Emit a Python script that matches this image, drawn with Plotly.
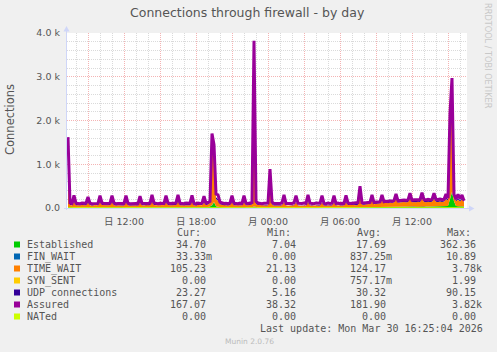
import plotly.graph_objects as go
import pandas as pd

# ---------------- data (10-minute samples, Sun 07:20 .. Mon 16:20) ----------------
times = pd.date_range("2026-03-29 07:20", periods=199, freq="10min")

established = [
    20, 15, 12, 18, 14, 13, 12, 15, 14, 13,
    16, 14, 12, 13, 15, 12, 17, 14, 13, 12,
    13, 15, 17, 14, 12, 13, 14, 15, 13, 16,
    14, 12, 13, 15, 14, 12, 16, 13, 12, 14,
    13, 14, 18, 15, 13, 12, 14, 15, 13, 17,
    15, 13, 14, 12, 15, 18, 14, 13, 12, 15,
    13, 14, 17, 13, 12, 15, 13, 14, 16, 15,
    20, 35, 60, 130, 40, 25, 18, 15, 13, 14,
    12, 14, 16, 13, 12, 11, 13, 12, 15, 12,
    11, 12, 14, 25, 15, 12, 10, 9, 10, 9,
    10, 18, 11, 9, 8, 9, 8, 9, 12, 8,
    7, 8, 9, 8, 11, 8, 7, 8, 9, 8,
    11, 8, 9, 8, 7, 8, 9, 11, 8, 8,
    9, 8, 9, 12, 9, 10, 9, 10, 11, 13,
    12, 13, 14, 15, 14, 16, 22, 18, 17, 19,
    20, 21, 25, 22, 24, 23, 25, 28, 26, 27,
    25, 28, 27, 29, 32, 28, 30, 29, 31, 30,
    32, 35, 31, 33, 30, 32, 31, 36, 33, 30,
    32, 31, 33, 37, 34, 32, 33, 31, 34, 38,
    45, 200, 362, 150, 45, 40, 36, 38, 35,
]

fin_wait = [
    2, 1, 0, 1, 0, 0, 1, 0, 0, 1,
    0, 1, 0, 0, 1, 0, 2, 0, 1, 0,
    0, 1, 1, 0, 0, 1, 0, 0, 1, 1,
    0, 0, 1, 0, 1, 0, 1, 0, 0, 1,
    1, 0, 2, 0, 0, 1, 0, 1, 0, 1,
    0, 1, 0, 0, 1, 2, 0, 0, 1, 0,
    1, 0, 1, 0, 0, 1, 0, 1, 1, 0,
    1, 2, 6, 5, 2, 1, 0, 1, 0, 0,
    1, 0, 1, 0, 0, 1, 0, 0, 1, 0,
    0, 1, 1, 10.89, 2, 1, 0, 0, 1, 0,
    0, 3, 1, 0, 0, 0, 1, 0, 1, 0,
    0, 0, 1, 0, 1, 0, 0, 0, 1, 0,
    1, 0, 0, 0, 1, 0, 0, 1, 0, 0,
    0, 1, 0, 1, 0, 0, 1, 0, 0, 1,
    1, 0, 1, 1, 0, 1, 2, 1, 0, 1,
    1, 1, 2, 1, 0, 1, 1, 2, 1, 1,
    1, 2, 1, 1, 2, 1, 1, 0, 1, 1,
    2, 2, 1, 1, 0, 1, 1, 2, 1, 0,
    1, 1, 0, 2, 1, 1, 0, 1, 1, 2,
    1, 7, 9, 3, 1, 1, 0, 1, 0.03,
]

time_wait = [
    1500, 55, 48, 130, 50, 45, 50, 55, 46, 50,
    110, 50, 45, 50, 55, 46, 120, 55, 50, 45,
    50, 55, 120, 55, 45, 50, 50, 55, 45, 120,
    50, 45, 50, 55, 50, 45, 115, 50, 45, 55,
    50, 50, 130, 55, 50, 45, 50, 55, 50, 120,
    55, 50, 50, 45, 55, 135, 50, 50, 45, 55,
    50, 50, 125, 50, 45, 55, 50, 50, 115, 55,
    60, 80, 1450, 1250, 160, 140, 65, 55, 50, 50,
    45, 55, 120, 50, 50, 45, 55, 50, 120, 50,
    50, 55, 65, 3780, 75, 55, 50, 45, 50, 50,
    55, 780, 70, 50, 45, 50, 50, 55, 130, 50,
    45, 50, 50, 55, 120, 50, 45, 50, 55, 50,
    130, 50, 50, 45, 55, 50, 50, 120, 50, 45,
    55, 50, 50, 120, 50, 55, 45, 50, 50, 125,
    55, 50, 55, 55, 50, 60, 320, 60, 55, 65,
    60, 70, 150, 65, 75, 70, 80, 150, 85, 90,
    85, 95, 90, 100, 170, 95, 100, 95, 105, 100,
    105, 180, 100, 105, 100, 110, 105, 185, 110, 100,
    110, 105, 110, 175, 110, 105, 115, 105, 110, 165,
    125, 1700, 2500, 160, 110, 150, 115, 160, 105,
]

syn_sent = [
    1, 0, 1, 1.99, 0, 1, 1, 0, 1, 1,
    0, 1, 1, 0, 1, 0, 1, 1, 0, 1,
    1, 0, 1, 1, 0, 0, 1, 1, 0, 1,
    1, 1, 0, 1, 0, 1, 1, 0, 1, 0,
    0, 1, 1, 0, 1, 1, 0, 1, 1, 0,
    1, 0, 1, 1, 0, 1, 0, 1, 1, 0,
    0, 1, 1, 0, 1, 0, 1, 1, 0, 1,
    1, 1, 1.99, 1, 1, 0, 1, 0, 1, 1,
    0, 1, 1, 0, 1, 0, 0, 1, 1, 0,
    1, 0, 1, 1.99, 1, 0, 1, 0, 0, 1,
    0, 1, 0, 0, 1, 0, 1, 0, 1, 0,
    0, 1, 0, 0, 1, 0, 0, 1, 0, 0,
    1, 0, 1, 0, 0, 1, 0, 1, 0, 0,
    1, 0, 0, 1, 0, 1, 0, 0, 1, 0,
    1, 1, 0, 1, 1, 0, 1, 1, 0, 1,
    1, 0, 1, 1, 0, 1, 1, 0, 1, 1,
    0, 1, 1, 0, 1, 1, 0, 1, 1, 0,
    1, 1, 0, 1, 1, 0, 1, 1, 0, 1,
    1, 0, 1, 1, 0, 1, 1, 0, 1, 1,
    0, 1.99, 1, 1, 0, 1, 0, 1, 0,
]

udp = [
    35, 30, 28, 32, 27, 25, 30, 28, 26, 29,
    31, 27, 25, 28, 30, 26, 33, 28, 25, 27,
    29, 30, 34, 28, 26, 27, 29, 31, 28, 33,
    30, 27, 28, 31, 29, 26, 32, 28, 27, 30,
    29, 28, 35, 30, 27, 26, 29, 31, 28, 34,
    31, 28, 30, 27, 29, 36, 30, 28, 26, 30,
    28, 29, 33, 28, 26, 30, 28, 29, 32, 30,
    35, 45, 90, 80, 40, 35, 30, 28, 26, 27,
    25, 27, 30, 26, 24, 22, 25, 23, 28, 24,
    22, 23, 26, 60, 30, 22, 18, 15, 14, 12,
    12, 40, 14, 10, 8, 9, 7, 8, 12, 7,
    6, 7, 8, 6, 10, 7, 5, 6, 8, 7,
    10, 7, 8, 6, 7, 8, 9, 11, 9, 10,
    12, 14, 15, 20, 16, 18, 19, 21, 22, 26,
    25, 27, 29, 30, 31, 33, 45, 34, 35, 36,
    37, 38, 42, 39, 40, 41, 43, 45, 42, 44,
    43, 45, 44, 46, 50, 45, 47, 46, 48, 45,
    46, 50, 44, 45, 43, 44, 42, 48, 40, 38,
    36, 35, 34, 40, 32, 30, 31, 29, 28, 33,
    30, 70, 85, 40, 28, 30, 26, 27, 23,
]

assured = [
    1620, 115, 100, 290, 110, 105, 100, 115, 105, 110,
    250, 110, 100, 105, 115, 105, 280, 115, 105, 100,
    105, 110, 280, 115, 100, 105, 110, 115, 105, 280,
    110, 100, 105, 115, 105, 100, 270, 110, 105, 115,
    105, 110, 300, 115, 105, 100, 110, 115, 105, 280,
    115, 105, 110, 100, 115, 300, 110, 105, 100, 115,
    105, 110, 290, 105, 100, 115, 105, 110, 270, 115,
    125, 150, 1700, 1450, 320, 300, 135, 115, 105, 110,
    100, 115, 280, 110, 105, 100, 115, 105, 280, 110,
    105, 115, 125, 3820, 150, 115, 105, 100, 110, 105,
    115, 890, 135, 105, 100, 110, 105, 115, 300, 105,
    100, 110, 105, 115, 280, 110, 100, 105, 115, 105,
    300, 110, 105, 100, 115, 105, 110, 280, 105, 100,
    115, 105, 110, 280, 105, 115, 100, 110, 105, 290,
    115, 105, 110, 115, 105, 125, 500, 120, 115, 125,
    120, 130, 300, 125, 135, 130, 140, 300, 145, 155,
    150, 165, 155, 170, 320, 165, 175, 170, 180, 175,
    185, 340, 180, 190, 185, 195, 190, 350, 195, 185,
    200, 190, 195, 340, 200, 195, 205, 195, 200, 320,
    225, 2170, 2970, 310, 205, 310, 215, 300, 167,
]

nated = [
    0, 0, 0, 0, 0, 0, 0, 0, 0, 0, 0, 0, 0, 0, 0, 0, 0, 0, 0, 0,
    0, 0, 0, 0, 0, 0, 0, 0, 0, 0, 0, 0, 0, 0, 0, 0, 0, 0, 0, 0,
    0, 0, 0, 0, 0, 0, 0, 0, 0, 0, 0, 0, 0, 0, 0, 0, 0, 0, 0, 0,
    0, 0, 0, 0, 0, 0, 0, 0, 0, 0, 0, 0, 0, 0, 0, 0, 0, 0, 0, 0,
    0, 0, 0, 0, 0, 0, 0, 0, 0, 0, 0, 0, 0, 0, 0, 0, 0, 0, 0, 0,
    0, 0, 0, 0, 0, 0, 0, 0, 0, 0, 0, 0, 0, 0, 0, 0, 0, 0, 0, 0,
    0, 0, 0, 0, 0, 0, 0, 0, 0, 0, 0, 0, 0, 0, 0, 0, 0, 0, 0, 0,
    0, 0, 0, 0, 0, 0, 0, 0, 0, 0, 0, 0, 0, 0, 0, 0, 0, 0, 0, 0,
    0, 0, 0, 0, 0, 0, 0, 0, 0, 0, 0, 0, 0, 0, 0, 0, 0, 0, 0, 0,
    0, 0, 0, 0, 0, 0, 0, 0, 0, 0, 0, 0, 0, 0, 0, 0, 0, 0, 0,
]

series_names = ["Established", "FIN_WAIT", "TIME_WAIT", "SYN_SENT",
                "UDP connections", "Assured", "NATed"]
series_colors = ["#00CC00", "#0066B3", "#FF8000", "#FFCC00",
                 "#330099", "#990099", "#CCFF00"]

cur_vals = ["34.70", "33.33m", "105.23", "0.00", "23.27", "167.07", "0.00"]
min_vals = ["7.04", "0.00", "21.13", "0.00", "5.16", "38.32", "0.00"]
avg_vals = ["17.69", "837.25m", "124.17", "757.17m", "30.32", "181.90", "0.00"]
max_vals = ["362.36", "10.89", "3.78k", "1.99", "90.15", "3.82k", "0.00"]

y_tickvals = [0, 1000, 2000, 3000, 4000]
y_ticktext = ["0.0", "1.0 k", "2.0 k", "3.0 k", "4.0 k"]

x_tickvals = ["2026-03-29 09:00", "2026-03-29 12:00", "2026-03-29 15:00",
              "2026-03-29 18:00", "2026-03-29 21:00", "2026-03-30 00:00",
              "2026-03-30 03:00", "2026-03-30 06:00", "2026-03-30 09:00",
              "2026-03-30 12:00", "2026-03-30 15:00"]
x_ticktext = ["", "日 12:00", "", "日 18:00", "", "月 00:00", "",
              "月 06:00", "", "月 12:00", ""]

title_text = "Connections through firewall - by day"
ylabel_text = "Connections"
last_update = "Last update: Mon Mar 30 16:25:04 2026"
munin_version = "Munin 2.0.76"
watermark = "RRDTOOL / TOBI OETIKER"

# ---------------- geometry helpers ----------------
W, H = 497, 352
L, R, T, B = 67, 30, 33, 144
PW, PH = W - L - R, H - T - B


def px(x):
    return (x - L) / PW


def py(y):
    return (H - B - y) / PH


FONT = "DejaVu Sans, Noto Sans CJK JP, sans-serif"
MONO = "DejaVu Sans Mono, monospace"
TXT = "#555555"
AXIS_C = "#CFD6F8"

fig = go.Figure()

stack_series = [established, fin_wait, time_wait, syn_sent, udp]
for i, vals in enumerate(stack_series):
    fig.add_trace(go.Scatter(
        x=times, y=vals, name=series_names[i], stackgroup="one",
        mode="lines", line=dict(width=0, color=series_colors[i]),
        fillcolor=series_colors[i], showlegend=False, hoverinfo="skip",
    ))

fig.add_trace(go.Scatter(
    x=times, y=assured, name=series_names[5], mode="lines",
    line=dict(width=3, color=series_colors[5]), showlegend=False,
))
fig.add_trace(go.Scatter(
    x=times, y=nated, name=series_names[6], mode="lines",
    line=dict(width=1.5, color=series_colors[6]), showlegend=False,
))

MGRID = "#F4B4B4"
GRID = "#DADADA"

fig.update_xaxes(
    type="date",
    range=["2026-03-29 07:15", "2026-03-30 16:35"],
    tickvals=x_tickvals, ticktext=x_ticktext,
    showgrid=True, gridcolor=MGRID, griddash="1px,1px", gridwidth=1,
    minor=dict(dtick=3600000, tick0="2026-03-29 00:00", showgrid=True,
               gridcolor=GRID, griddash="1px,1px", gridwidth=1),
    showline=False, zeroline=False, ticks="",
    ticklabelstandoff=6,
    tickfont=dict(family=FONT, size=9.5, color=TXT),
    fixedrange=True,
)
fig.update_yaxes(
    range=[0, 4000],
    tickvals=y_tickvals, ticktext=y_ticktext,
    showgrid=True, gridcolor=MGRID, griddash="1px,1px", gridwidth=1,
    minor=dict(dtick=200, showgrid=True, gridcolor=GRID,
               griddash="1px,1px", gridwidth=1),
    showline=False, zeroline=False, ticks="",
    ticklabelstandoff=6,
    tickfont=dict(family=FONT, size=9.5, color=TXT),
    fixedrange=True,
)

shapes = []
# axes with arrows
shapes.append(dict(type="line", xref="paper", yref="paper",
                   x0=px(66.5), x1=px(66.5), y0=py(210), y1=py(30),
                   line=dict(color=AXIS_C, width=1), layer="above"))
shapes.append(dict(type="path", xref="paper", yref="paper",
                   path=f"M {px(63.5)} {py(31.5)} L {px(66.5)} {py(26)} L {px(69.5)} {py(31.5)} Z",
                   fillcolor=AXIS_C, line=dict(width=0), layer="above"))
shapes.append(dict(type="line", xref="paper", yref="paper",
                   x0=px(64), x1=px(470), y0=py(208.5), y1=py(208.5),
                   line=dict(color=AXIS_C, width=1), layer="above"))
shapes.append(dict(type="path", xref="paper", yref="paper",
                   path=f"M {px(469)} {py(205.5)} L {px(474.5)} {py(208.5)} L {px(469)} {py(211.5)} Z",
                   fillcolor=AXIS_C, line=dict(width=0), layer="above"))

annotations = []
annotations.append(dict(text=title_text, x=px(247), y=py(13), xref="paper",
                        yref="paper", showarrow=False, xanchor="center",
                        yanchor="middle", font=dict(family=FONT, size=12.5, color=TXT)))
annotations.append(dict(text=ylabel_text, x=px(10), y=py(120), xref="paper",
                        yref="paper", showarrow=False, textangle=-90,
                        xanchor="center", yanchor="middle",
                        font=dict(family=FONT, size=11.5, color=TXT)))
annotations.append(dict(text=watermark, x=px(488), y=py(56), xref="paper",
                        yref="paper", showarrow=False, textangle=90,
                        xanchor="center", yanchor="middle",
                        font=dict(family=FONT, size=8.2, color="#C8C8C8")))

# legend table
col_ends = [212.5, 302.5, 392.5, 482.5]
headers = ["Cur:", "Min:", "Avg:", "Max:"]
header_y = 232.3
for h, ce in zip(headers, col_ends):
    annotations.append(dict(text=h, x=px(ce - 36.1), y=py(header_y), xref="paper",
                            yref="paper", showarrow=False, xanchor="left",
                            yanchor="middle", borderpad=0,
                            font=dict(family=MONO, size=10, color=TXT)))

row0 = 244.5
for i, name in enumerate(series_names):
    yy = row0 + 12 * i
    shapes.append(dict(type="rect", xref="paper", yref="paper",
                       x0=px(14), x1=px(20), y0=py(yy - 3), y1=py(yy + 3),
                       fillcolor=series_colors[i], line=dict(width=0)))
    annotations.append(dict(text=name, x=px(26), y=py(yy), xref="paper",
                            yref="paper", showarrow=False, xanchor="left",
                            yanchor="middle", borderpad=0,
                            font=dict(family=MONO, size=10, color=TXT)))
    for vals, ce in zip([cur_vals, min_vals, avg_vals, max_vals], col_ends):
        v = vals[i]
        if v[-1].isdigit():
            v = v + "\u00a0"
        annotations.append(dict(text=v, x=px(ce), y=py(yy), xref="paper",
                                yref="paper", showarrow=False, xanchor="right",
                                yanchor="middle", borderpad=0,
                                font=dict(family=MONO, size=10, color=TXT)))

annotations.append(dict(text=last_update, x=px(483.5), y=py(328.7), xref="paper",
                        yref="paper", showarrow=False, xanchor="right",
                        yanchor="middle", borderpad=0,
                        font=dict(family=MONO, size=10, color=TXT)))
annotations.append(dict(text=munin_version, x=px(249), y=py(341.5), xref="paper",
                        yref="paper", showarrow=False, xanchor="center",
                        yanchor="middle", borderpad=0,
                        font=dict(family=FONT, size=7.5, color="#BBBBBB")))

fig.update_layout(
    width=W, height=H,
    margin=dict(l=L, r=R, t=T, b=B, pad=0),
    paper_bgcolor="#F0F0F0", plot_bgcolor="#FFFFFF",
    shapes=shapes, annotations=annotations,
    showlegend=False, hovermode=False,
)

fig.write_html("out.html", config={"displayModeBar": False})
